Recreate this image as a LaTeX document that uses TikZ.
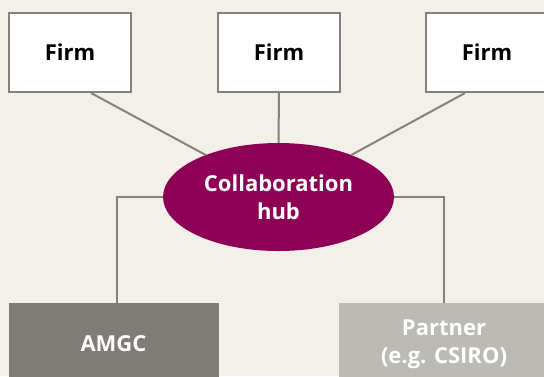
\documentclass[tikz,border=0pt]{standalone}
\usepackage{fontspec}
\setmainfont{Open Sans}
\usetikzlibrary{shapes.geometric}
\definecolor{mybg}{RGB}{243, 240, 234}
\definecolor{myline}{RGB}{133, 130, 122}
\definecolor{myplum}{RGB}{142, 0, 85}
\definecolor{mydark}{RGB}{127, 124, 117}
\definecolor{mylight}{RGB}{188, 186, 180}

\begin{document}
\begin{tikzpicture}[x=1pt,y=-1pt,
  firmbox/.style={draw=myline,line width=2pt,fill=white,minimum width=122pt,minimum height=79pt,inner sep=0pt},
  basebox/.style={minimum width=210pt,minimum height=82pt,inner sep=0pt,align=center,text=white},
  link/.style={draw=myline,line width=2pt}]
\clip (0,0) rectangle (544,376);
\fill[mybg] (0,0) rectangle (544,376);
\fontsize{22}{28}\selectfont\bfseries

\node[firmbox] (firmL) at (70,52.5) {Firm};
\node[firmbox] (firmM) at (279,52.5) {Firm};
\node[firmbox] (firmR) at (487,52.5) {Firm};

\node[ellipse,fill=myplum,text=white,align=center,minimum width=231pt,minimum height=108pt,inner sep=0pt] (hub) at (278.5,197) {Collaboration\\hub};

\node[basebox,fill=mydark] (amgc) at (113.5,344) {AMGC};
\node[basebox,fill=mylight] (partner) at (444,344) {Partner\\(e.g. CSIRO)};

\draw[link] ([xshift=21pt]firmL.south) -- (hub.150);
\draw[link] (firmM.south) -- (hub.north);
\draw[link] ([xshift=-22pt]firmR.south) -- (hub.30);
\draw[link] (hub.west) -| ([xshift=3.5pt]amgc.north);
\draw[link] (hub.east) -| (partner.north);
\end{tikzpicture}
\end{document}
